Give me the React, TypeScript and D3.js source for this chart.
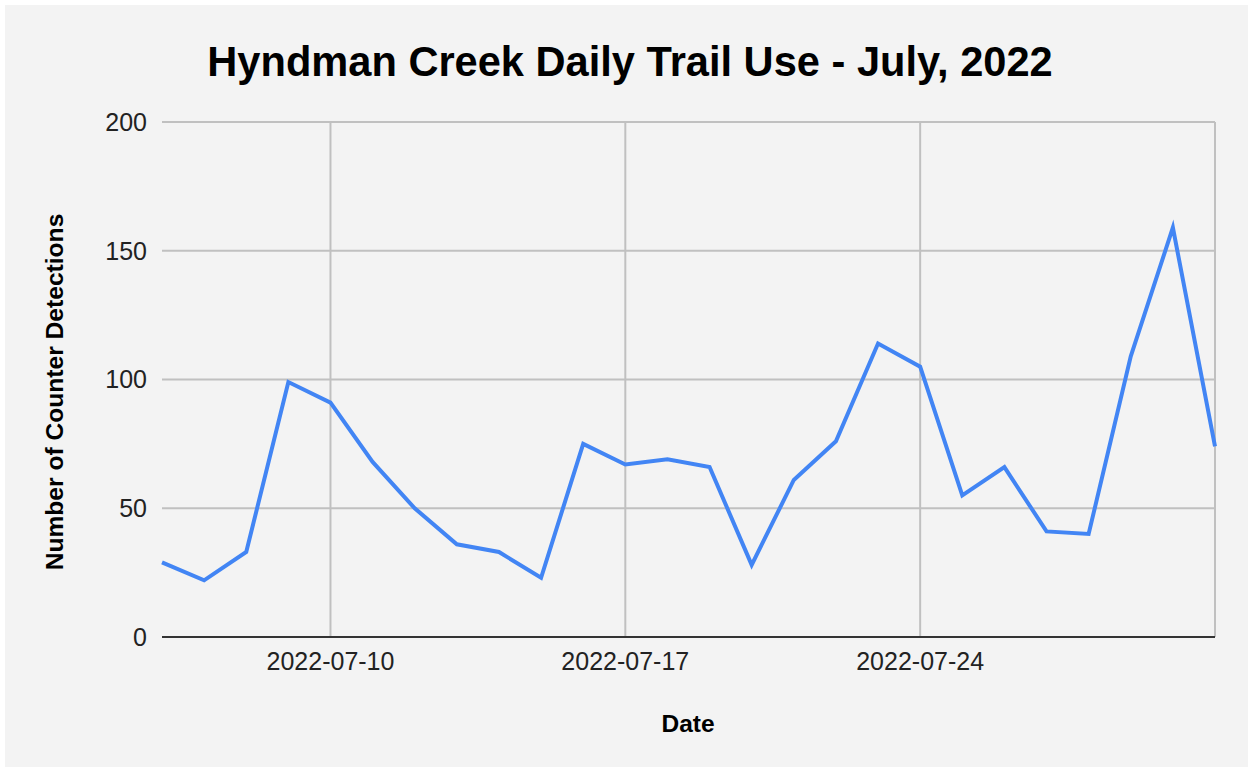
import { useEffect, useRef } from 'react'
import * as d3 from 'd3'

// Daily counts, 2022-07-06 .. 2022-07-31
const dates = [
  '2022-07-06', '2022-07-07', '2022-07-08', '2022-07-09', '2022-07-10', '2022-07-11',
  '2022-07-12', '2022-07-13', '2022-07-14', '2022-07-15', '2022-07-16', '2022-07-17',
  '2022-07-18', '2022-07-19', '2022-07-20', '2022-07-21', '2022-07-22', '2022-07-23',
  '2022-07-24', '2022-07-25', '2022-07-26', '2022-07-27', '2022-07-28', '2022-07-29',
  '2022-07-30', '2022-07-31',
]
const detections = [
  29, 22, 33, 99, 91, 68,
  50, 36, 33, 23, 75, 67,
  69, 66, 28, 61, 76, 114,
  105, 55, 66, 41, 40, 109,
  159, 74,
]
const yTicks = [0, 50, 100, 150, 200]
const xGridDates = ['2022-07-10', '2022-07-17', '2022-07-24', '2022-07-31']
const xLabelDates = ['2022-07-10', '2022-07-17', '2022-07-24']

const W = 1253
const H = 772
const FONT = '"Liberation Sans", Arial, sans-serif'

export default function App() {
  const svgRef = useRef<SVGSVGElement>(null)

  useEffect(() => {
    if (!svgRef.current) return
    const svg = d3.select(svgRef.current)
    svg.selectAll('*').remove()

    const parse = d3.utcParse('%Y-%m-%d')
    const data = dates.map((d, i) => ({ date: parse(d)!, value: detections[i] }))

    const margin = { left: 162, right: 38, top: 122, bottom: 135 }

    const x = d3.scaleUtc()
      .domain(d3.extent(data, d => d.date) as [Date, Date])
      .range([margin.left, W - margin.right])
    const y = d3.scaleLinear()
      .domain([0, 200])
      .range([H - margin.bottom, margin.top])

    // background
    svg.append('rect').attr('width', W).attr('height', H).attr('fill', '#ffffff')
    svg.append('rect')
      .attr('x', 5).attr('y', 5)
      .attr('width', W - 10).attr('height', H - 10)
      .attr('fill', '#f3f3f3')

    // horizontal gridlines
    svg.append('g')
      .selectAll('line')
      .data(yTicks.filter(t => t > 0))
      .join('line')
      .attr('x1', margin.left).attr('x2', W - margin.right)
      .attr('y1', d => y(d)).attr('y2', d => y(d))
      .attr('stroke', '#c0c0c0').attr('stroke-width', 2)

    // vertical gridlines
    svg.append('g')
      .selectAll('line')
      .data(xGridDates.map(d => parse(d)!))
      .join('line')
      .attr('x1', d => x(d)).attr('x2', d => x(d))
      .attr('y1', y(200)).attr('y2', y(0))
      .attr('stroke', '#c0c0c0').attr('stroke-width', 2)

    // y tick labels
    svg.append('g')
      .selectAll('text')
      .data(yTicks)
      .join('text')
      .attr('x', margin.left - 15)
      .attr('y', d => y(d))
      .attr('dy', '0.35em')
      .attr('text-anchor', 'end')
      .attr('font-family', FONT)
      .attr('font-size', 25)
      .attr('fill', '#222')
      .text(d => d)

    // x tick labels
    const fmt = d3.utcFormat('%Y-%m-%d')
    svg.append('g')
      .selectAll('text')
      .data(xLabelDates.map(d => parse(d)!))
      .join('text')
      .attr('x', d => x(d))
      .attr('y', y(0) + 33)
      .attr('text-anchor', 'middle')
      .attr('font-family', FONT)
      .attr('font-size', 25)
      .attr('fill', '#222')
      .text(d => fmt(d))

    // baseline
    svg.append('line')
      .attr('x1', margin.left).attr('x2', W - margin.right)
      .attr('y1', y(0)).attr('y2', y(0))
      .attr('stroke', '#333').attr('stroke-width', 2)

    // series line
    const line = d3.line<{ date: Date, value: number }>()
      .x(d => x(d.date))
      .y(d => y(d.value))
    svg.append('path')
      .datum(data)
      .attr('d', line)
      .attr('fill', 'none')
      .attr('stroke', '#4285f4')
      .attr('stroke-width', 4)
      .attr('stroke-linejoin', 'miter')

    // title
    svg.append('text')
      .attr('x', 630)
      .attr('y', 76)
      .attr('text-anchor', 'middle')
      .attr('font-family', FONT)
      .attr('font-weight', 'bold')
      .attr('font-size', 41.6)
      .attr('fill', '#000')
      .text('Hyndman Creek Daily Trail Use - July, 2022')

    // axis titles
    svg.append('text')
      .attr('x', 688)
      .attr('y', 732)
      .attr('text-anchor', 'middle')
      .attr('font-family', FONT)
      .attr('font-weight', 'bold')
      .attr('font-size', 24.5)
      .attr('fill', '#000')
      .text('Date')

    svg.append('text')
      .attr('transform', 'translate(63,392) rotate(-90)')
      .attr('text-anchor', 'middle')
      .attr('font-family', FONT)
      .attr('font-weight', 'bold')
      .attr('font-size', 24.6)
      .attr('fill', '#000')
      .text('Number of Counter Detections')
  }, [])

  return (
    <svg
      ref={svgRef}
      width={W}
      height={H}
      style={{ position: 'absolute', left: 0, top: 0, display: 'block' }}
    />
  )
}
